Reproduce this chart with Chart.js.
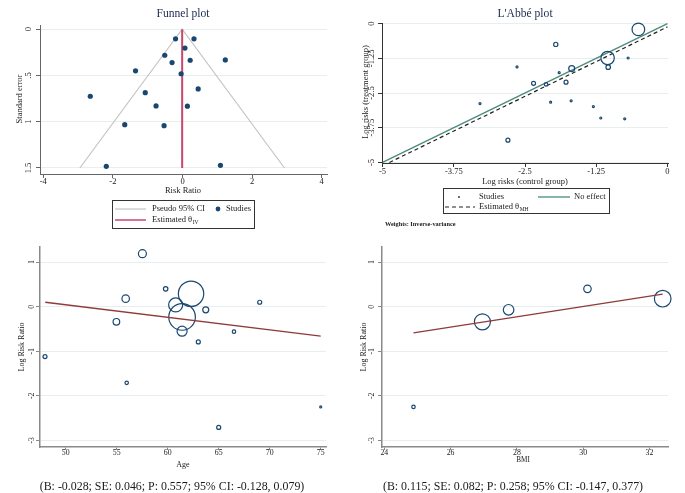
<!DOCTYPE html>
<html>
<head>
<meta charset="utf-8">
<script src="https://cdn.jsdelivr.net/npm/chart.js@4.4.0/dist/chart.umd.min.js"></script>
<style>
  body { margin: 0; background: #fff; }
  #wrap { position: relative; width: 685px; height: 493px; }
  #wrap canvas { position: absolute; left: 0; top: 0; }
</style>
</head>
<body>
<div id="wrap">
  <canvas id="funnel" width="685" height="493"></canvas>
  <canvas id="labbe" width="685" height="493"></canvas>
  <canvas id="age" width="685" height="493"></canvas>
  <canvas id="bmi" width="685" height="493"></canvas>
</div>
<script>
// ---- funnel plot data ----
const funnelLogRR = [-0.20, 0.33, 0.07, -0.51, 0.22, 1.23, -0.30, -1.35, -0.04, 0.45, -1.07, -2.65, -0.76, 0.14, -1.66, -0.53, -2.19, 1.09];
const funnelSE    = [0.104, 0.104, 0.204, 0.282, 0.336, 0.332, 0.361, 0.45, 0.482, 0.646, 0.686, 0.725, 0.829, 0.832, 1.032, 1.043, 1.482, 1.471];
const funnelCIx = [-2.95, -0.01, 2.93];
const funnelCIy = [1.5, 0, 1.5];
const funnelThetaX = [-0.01, -0.01];
const funnelThetaY = [0, 1.5];
const funnelXTicks = [-4, -2, 0, 2, 4];
const funnelXLabels = ['-4', '-2', '0', '2', '4'];
const funnelYTicks = [0, 0.5, 1, 1.5];
const funnelYLabels = ['0', '.5', '1', '1.5'];

// ---- L'Abbé plot data ----
const labbeControl = [-0.51, -1.05, -1.04, -1.68, -1.96, -2.35, -1.78, -2.13, -2.80, -2.64, -3.29, -1.90, -2.05, -1.69, -1.30, -1.17, -0.75, -0.69];
const labbeTreat   = [-0.21, -1.24, -1.57, -1.62, -0.75, -2.15, -2.11, -2.19, -4.20, -1.56, -2.88, -1.77, -2.83, -2.78, -2.99, -3.40, -3.43, -1.24];
const labbeWeight  = [40, 45, 5, 9, 4.5, 4, 4, 3, 4, 1, 1, 1, 1, 1, 1, 1, 1, 1];
const labbeNoEffectX = [-5, 0];
const labbeNoEffectY = [-5, 0];
const labbeMHX = [-4.88, 0];
const labbeMHY = [-5, -0.12];
const labbeTicks = [-5, -3.75, -2.5, -1.25, 0];
const labbeLabels = ['-5', '-3.75', '-2.5', '-1.25', '0'];

// ---- meta-regression: age ----
const ageX      = [47.97, 54.97, 55.88, 55.98, 57.52, 59.80, 60.78, 61.41, 61.41, 62.29, 63.0, 63.73, 65.0, 66.5, 69.02, 75.0];
const ageLogRR  = [-1.12, -0.34, 0.18, -1.71, 1.19, 0.40, 0.04, -0.23, -0.55, 0.29, -0.79, -0.07, -2.71, -0.56, 0.10, -2.25];
const ageWeight = [4, 11, 14, 3, 16, 5, 49, 177, 25, 161, 4, 9, 4, 3, 4, 1];
const ageFitX = [48, 75];
const ageFitY = [0.10, -0.66];
const ageTicks = [50, 55, 60, 65, 70, 75];
const ageLabels = ['50', '55', '60', '65', '70', '75'];

// ---- meta-regression: BMI ----
const bmiX      = [24.88, 26.96, 27.75, 30.13, 32.40];
const bmiLogRR  = [-2.25, -0.34, -0.07, 0.40, 0.18];
const bmiWeight = [3, 64, 28, 14, 69];
const bmiFitX = [24.88, 32.40];
const bmiFitY = [-0.59, 0.28];
const bmiTicks = [24, 26, 28, 30, 32];
const bmiLabels = ['24', '26', '28', '30', '32'];

const lrrTicks = [-3, -2, -1, 0, 1];
const lrrLabels = ['-3', '-2', '-1', '0', '1'];

const SERIF = '"Liberation Serif", "Times New Roman", serif';
const NAVY = '#1a476f';
const INK = '#1a1a1a';
const GRID = '#e6eef0';

const pts = (xs, ys) => xs.map((x, i) => ({ x: x, y: ys[i] }));
const font = (s, w) => (w ? w + ' ' : '') + s + 'px ' + SERIF;

// text, legends and rotated y tick labels, Stata style
const decor = {
  funnel: {
    title: ['Funnel plot', 183, 14],
    tickSize: 8.5, ySize: 8.5, xSize: 8.5,
    yLabels: funnelYLabels, yTickX: 29,
    yTitle: ['Standard error', 20, 99],
    xTitle: ['Risk Ratio', 183, 191],
    legend: {
      box: [112, 200, 142, 28],
      items: [
        { kind: 'line', color: '#c4c4c4', width: 1.2, x1: 115, x2: 146, y: 209, text: 'Pseudo 95% CI', tx: 152 },
        { kind: 'dot', color: NAVY, r: 2.4, x1: 218, y: 209, text: 'Studies', tx: 226 },
        { kind: 'line', color: '#c9466d', width: 1.5, x1: 115, x2: 146, y: 220, text: 'Estimated \u03b8', sub: 'IV', tx: 152 }
      ]
    }
  },
  labbe: {
    title: ['L\'Abb\u00e9 plot', 525, 14],
    tickSize: 8.5, ySize: 8.5, xSize: 8.5,
    yLabels: labbeLabels, yTickX: 372,
    yTitle: ['Log risks (treatment group)', 366, 92],
    xTitle: ['Log risks (control group)', 525, 182],
    legend: {
      box: [443, 188, 166, 25],
      items: [
        { kind: 'dot', color: NAVY, r: 1, x1: 459, y: 197, text: 'Studies', tx: 479 },
        { kind: 'line', color: '#4a8b7d', width: 1.3, x1: 538, x2: 570, y: 197, text: 'No effect', tx: 574 },
        { kind: 'dash', color: '#222', width: 1.2, x1: 445, x2: 475, y: 207, text: 'Estimated \u03b8', sub: 'MH', tx: 479 }
      ]
    },
    note: ['Weights: Inverse-variance', 385, 224]
  },
  age: {
    tickSize: 7.8, ySize: 8, xSize: 8,
    yLabels: lrrLabels, yTickX: 32,
    yTitle: ['Log Risk Ratio', 22, 347],
    xTitle: ['Age', 183, 465],
    caption: ['(B: -0.028; SE: 0.046; P: 0.557; 95% CI: -0.128, 0.079)', 172, 487]
  },
  bmi: {
    tickSize: 7.8, ySize: 8, xSize: 7.2,
    yLabels: lrrLabels, yTickX: 372,
    yTitle: ['Log Risk Ratio', 364, 347],
    xTitle: ['BMI', 523, 460],
    caption: ['(B: 0.115; SE: 0.082; P: 0.258; 95% CI: -0.147, 0.377)', 513, 487]
  }
};

function rotText(c, text, x, y) {
  c.save();
  c.translate(x, y);
  c.rotate(-Math.PI / 2);
  c.fillText(text, 0, 0);
  c.restore();
}

const stataText = {
  id: 'stataText',
  afterDraw(chart) {
    const d = decor[chart.canvas.id];
    const c = chart.ctx;
    c.save();
    c.fillStyle = INK;
    c.textAlign = 'center';
    c.textBaseline = 'middle';

    const ys = chart.scales.y;
    c.font = font(d.tickSize);
    ys.ticks.forEach((t, i) => rotText(c, d.yLabels[i], d.yTickX, ys.getPixelForValue(t.value)));

    c.font = font(d.ySize);
    rotText(c, d.yTitle[0], d.yTitle[1], d.yTitle[2]);
    c.font = font(d.xSize);
    c.fillText(d.xTitle[0], d.xTitle[1], d.xTitle[2]);

    if (d.title) {
      c.fillStyle = '#1c2a52';
      c.font = font(11.6);
      c.fillText(d.title[0], d.title[1], d.title[2]);
      c.fillStyle = INK;
    }
    if (d.caption) {
      c.font = font(11.9);
      c.fillText(d.caption[0], d.caption[1], d.caption[2]);
    }
    if (d.note) {
      c.font = font(6.3, 'bold');
      c.textAlign = 'left';
      c.fillText(d.note[0], d.note[1], d.note[2]);
    }
    if (d.legend) {
      const b = d.legend.box;
      c.strokeStyle = '#333';
      c.lineWidth = 1;
      c.strokeRect(b[0] + 0.5, b[1] + 0.5, b[2], b[3]);
      c.textAlign = 'left';
      d.legend.items.forEach(it => {
        c.save();
        if (it.kind === 'dot') {
          c.fillStyle = it.color;
          c.beginPath();
          c.arc(it.x1, it.y, it.r, 0, Math.PI * 2);
          c.fill();
        } else {
          c.strokeStyle = it.color;
          c.lineWidth = it.width;
          c.setLineDash(it.kind === 'dash' ? [4, 3] : []);
          c.beginPath();
          c.moveTo(it.x1, it.y);
          c.lineTo(it.x2, it.y);
          c.stroke();
        }
        c.restore();
        c.font = font(8.5);
        c.fillText(it.text, it.tx, it.y);
        if (it.sub) {
          const w = c.measureText(it.text).width;
          c.font = font(5.5);
          c.fillText(it.sub, it.tx + w + 0.5, it.y + 2.5);
        }
      });
    }
    c.restore();
  }
};
Chart.register(stataText);

function axisX(min, max, ticks, labels, tickLen, pad, color, bw, size) {
  return {
    type: 'linear', position: 'bottom', min: min, max: max,
    afterBuildTicks: s => { s.ticks = ticks.map(v => ({ value: v })); },
    afterFit: s => { s.height = 22; },
    grid: { drawOnChartArea: false, drawTicks: true, tickLength: tickLen, tickColor: color, tickWidth: 1 },
    border: { color: color, width: bw },
    ticks: {
      color: INK, font: { family: SERIF, size: size }, padding: pad,
      maxRotation: 0, autoSkip: false,
      callback: (v, i) => labels[i]
    }
  };
}

function axisY(min, max, ticks, reverse, color, bw) {
  return {
    type: 'linear', position: 'left', min: min, max: max, reverse: reverse,
    afterBuildTicks: s => { s.ticks = ticks.map(v => ({ value: v })); },
    afterFit: s => { s.width = 4; },
    grid: { color: GRID, lineWidth: 1, drawTicks: true, tickLength: 4, tickColor: color },
    border: { color: color, width: bw },
    ticks: { display: false }
  };
}

function lineSet(xs, ys, color, width, dash) {
  return {
    type: 'line', data: pts(xs, ys), borderColor: color, borderWidth: width,
    borderDash: dash || [], pointRadius: 0, fill: false, tension: 0, clip: false
  };
}

function bubbleSet(xs, ys, weights) {
  return {
    type: 'scatter', data: pts(xs, ys),
    pointRadius: ctx => Math.sqrt(weights[ctx.dataIndex]),
    pointBackgroundColor: 'rgba(0,0,0,0)',
    pointBorderColor: NAVY, pointBorderWidth: 1.2, clip: false
  };
}

function baseOptions(padding, scales) {
  return {
    responsive: false, animation: false, devicePixelRatio: 1,
    layout: { padding: padding },
    plugins: { legend: { display: false }, tooltip: { enabled: false }, title: { display: false } },
    scales: scales
  };
}

// funnel plot
new Chart(document.getElementById('funnel'), {
  type: 'scatter',
  data: {
    datasets: [
      {
        data: pts(funnelLogRR, funnelSE), pointRadius: 2.6,
        pointBackgroundColor: NAVY, pointBorderColor: NAVY, pointBorderWidth: 0, clip: false
      },
      lineSet(funnelThetaX, funnelThetaY, '#c9466d', 2),
      lineSet(funnelCIx, funnelCIy, '#c4c4c4', 1.2)
    ]
  },
  options: baseOptions({ left: 36, right: 358, top: 25, bottom: 297 }, {
    x: axisX(-4.095, 4.152, funnelXTicks, funnelXLabels, 4, -1, '#666', 1, 8.5),
    y: axisY(-0.045, 1.565, funnelYTicks, true, '#666', 1)
  })
});

// L'Abbé plot
new Chart(document.getElementById('labbe'), {
  type: 'scatter',
  data: {
    datasets: [
      bubbleSet(labbeControl, labbeTreat, labbeWeight),
      lineSet(labbeNoEffectX, labbeNoEffectY, '#4a8b7d', 1.3),
      lineSet(labbeMHX, labbeMHY, '#222', 1.2, [4, 3])
    ]
  },
  options: baseOptions({ left: 378, right: 17, top: 23, bottom: 308 }, {
    x: axisX(-5.01, 0.01, labbeTicks, labbeLabels, 4, 0, '#333', 1, 8.5),
    y: axisY(-5.02, 0.02, labbeTicks, false, '#333', 1)
  })
});

// meta-regression on age
new Chart(document.getElementById('age'), {
  type: 'scatter',
  data: {
    datasets: [
      lineSet(ageFitX, ageFitY, '#8f3a3a', 1.3),
      bubbleSet(ageX, ageLogRR, ageWeight)
    ]
  },
  options: baseOptions({ left: 36, right: 359, top: 247, bottom: 24 }, {
    x: axisX(47.48, 75.52, ageTicks, ageLabels, 3, -1.5, '#8a8a8a', 1.5, 7.8),
    y: axisY(-3.15, 1.34, lrrTicks, false, '#8a8a8a', 1.5)
  })
});

// meta-regression on BMI
new Chart(document.getElementById('bmi'), {
  type: 'scatter',
  data: {
    datasets: [
      lineSet(bmiFitX, bmiFitY, '#8f3a3a', 1.3),
      bubbleSet(bmiX, bmiLogRR, bmiWeight)
    ]
  },
  options: baseOptions({ left: 378, right: 17, top: 247, bottom: 24 }, {
    x: axisX(23.93, 32.56, bmiTicks, bmiLabels, 3, -1.5, '#8a8a8a', 1.5, 7.8),
    y: axisY(-3.15, 1.34, lrrTicks, false, '#8a8a8a', 1.5)
  })
});
</script>
</body>
</html>
